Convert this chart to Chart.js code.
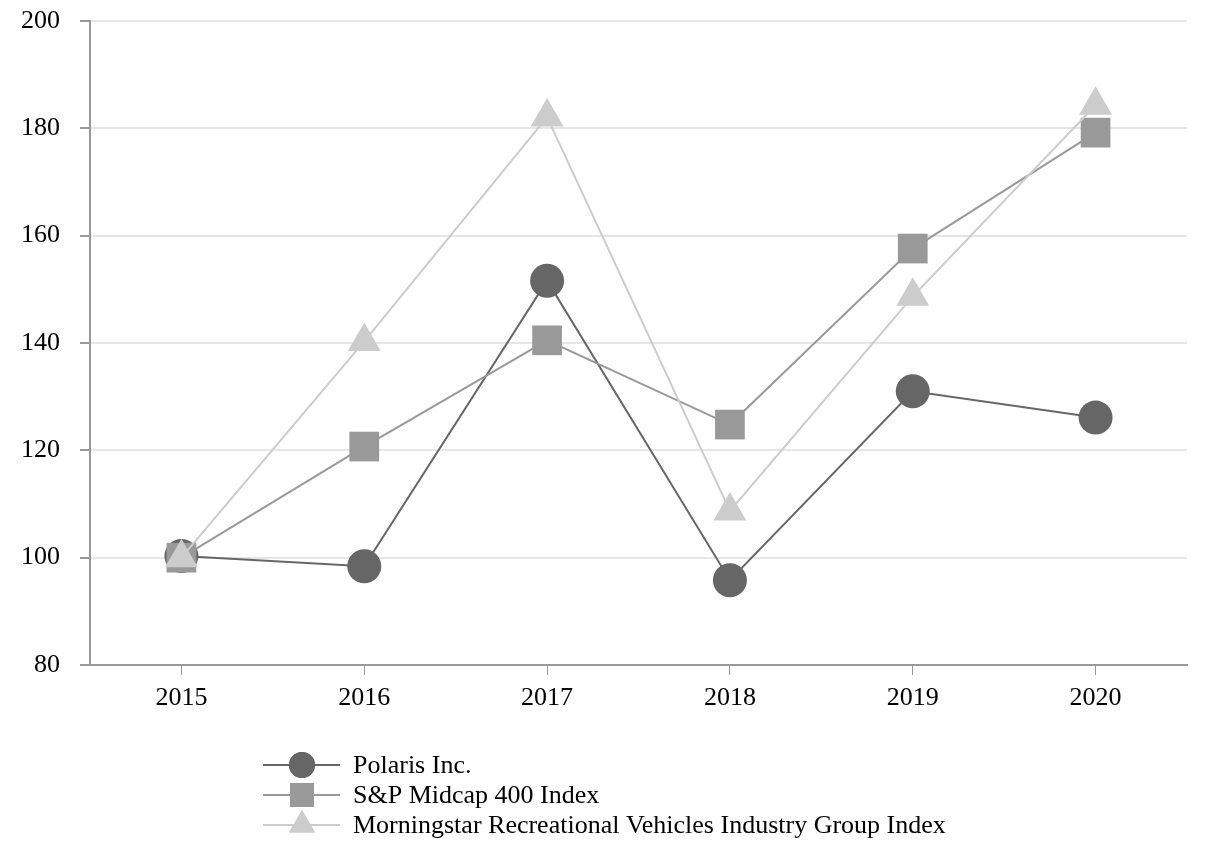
<!DOCTYPE html>
<html>
<head>
<meta charset="utf-8">
<script src="https://cdn.jsdelivr.net/npm/chart.js@4.4.1/dist/chart.umd.min.js"></script>
<style>
  html, body { margin: 0; padding: 0; background: #fff; }
  #wrap { width: 1208px; height: 866px; position: relative; }
</style>
</head>
<body>
<div id="wrap"><canvas id="chart"></canvas></div>
<script>
const years = ["2015", "2016", "2017", "2018", "2019", "2020"];
const polaris = [100.3, 98.4, 151.6, 95.8, 131.0, 126.1];
const spMidcap = [100.0, 120.7, 140.5, 124.8, 157.6, 179.2];
const morningstar = [100.0, 140.3, 182.1, 108.7, 148.7, 184.3];
const yTicks = [80, 100, 120, 140, 160, 180, 200];

const FONT = "'Liberation Serif', 'Times New Roman', serif";

// order: lower is drawn on top (triangles over squares over circles)
const series = [
    {label: "Polaris Inc.", data: polaris, color: "#666666", style: "circle", r: 17, lr: 13, order: 2},
    {label: "S&P Midcap 400 Index", data: spMidcap, color: "#999999", style: "rect", r: 21, lr: 17, order: 1},
    {label: "Morningstar Recreational Vehicles Industry Group Index", data: morningstar, color: "#cccccc", style: "triangle", r: 19, lr: 15, order: 0},
];

// legend drawn under the axis, left aligned like the original
const bottomLegend = {
    id: "bottomLegend",
    afterDraw(chart) {
        const ctx = chart.ctx;
        ctx.save();
        series.forEach((s, i) => {
            const y = 765 + i * 30;
            ctx.strokeStyle = s.color;
            ctx.lineWidth = 2;
            ctx.beginPath();
            ctx.moveTo(263, y);
            ctx.lineTo(340, y);
            ctx.stroke();
            ctx.fillStyle = s.color;
            Chart.helpers.drawPoint(ctx, {pointStyle: s.style, radius: s.lr, rotation: 0, borderWidth: 0}, 302, y);
            ctx.fill();
            ctx.fillStyle = "#000";
            ctx.font = "26px " + FONT;
            ctx.textBaseline = "middle";
            ctx.fillText(s.label, 353, y + 1);
        });
        ctx.restore();
    }
};

new Chart(document.getElementById("chart"), {
    type: "line",
    data: {
        labels: years,
        datasets: series.map(s => ({
            label: s.label,
            data: s.data,
            order: s.order,
            borderColor: s.color,
            backgroundColor: s.color,
            borderWidth: 2,
            pointStyle: s.style,
            pointRadius: s.r,
            pointBorderWidth: 0,
            pointBackgroundColor: s.color,
            tension: 0,
        })),
    },
    options: {
        responsive: true,
        maintainAspectRatio: false,
        animation: false,
        layout: {padding: {top: 20, right: 20, left: 0, bottom: 0}},
        plugins: {legend: {display: false}, tooltip: {enabled: false}},
        scales: {
            x: {
                offset: true,
                afterFit: (scale) => { scale.height = 201; },
                border: {color: "#999999", width: 2},
                grid: {drawOnChartArea: false, drawTicks: true, tickLength: 10, tickColor: "#999999", offset: false},
                ticks: {color: "#000", font: {family: FONT, size: 26}, padding: 8, maxRotation: 0},
            },
            y: {
                min: 80,
                max: 200,
                afterFit: (scale) => { scale.width = 90; scale.paddingTop = 0; scale.paddingBottom = 0; },
                afterBuildTicks: (scale) => { scale.ticks = yTicks.map(v => ({value: v})); },
                border: {color: "#999999", width: 2},
                grid: {color: "#e6e6e6", lineWidth: 2, tickLength: 10, tickColor: "#999999"},
                ticks: {color: "#000", font: {family: FONT, size: 26}, padding: 20},
            },
        },
    },
    plugins: [bottomLegend],
});
</script>
</body>
</html>
